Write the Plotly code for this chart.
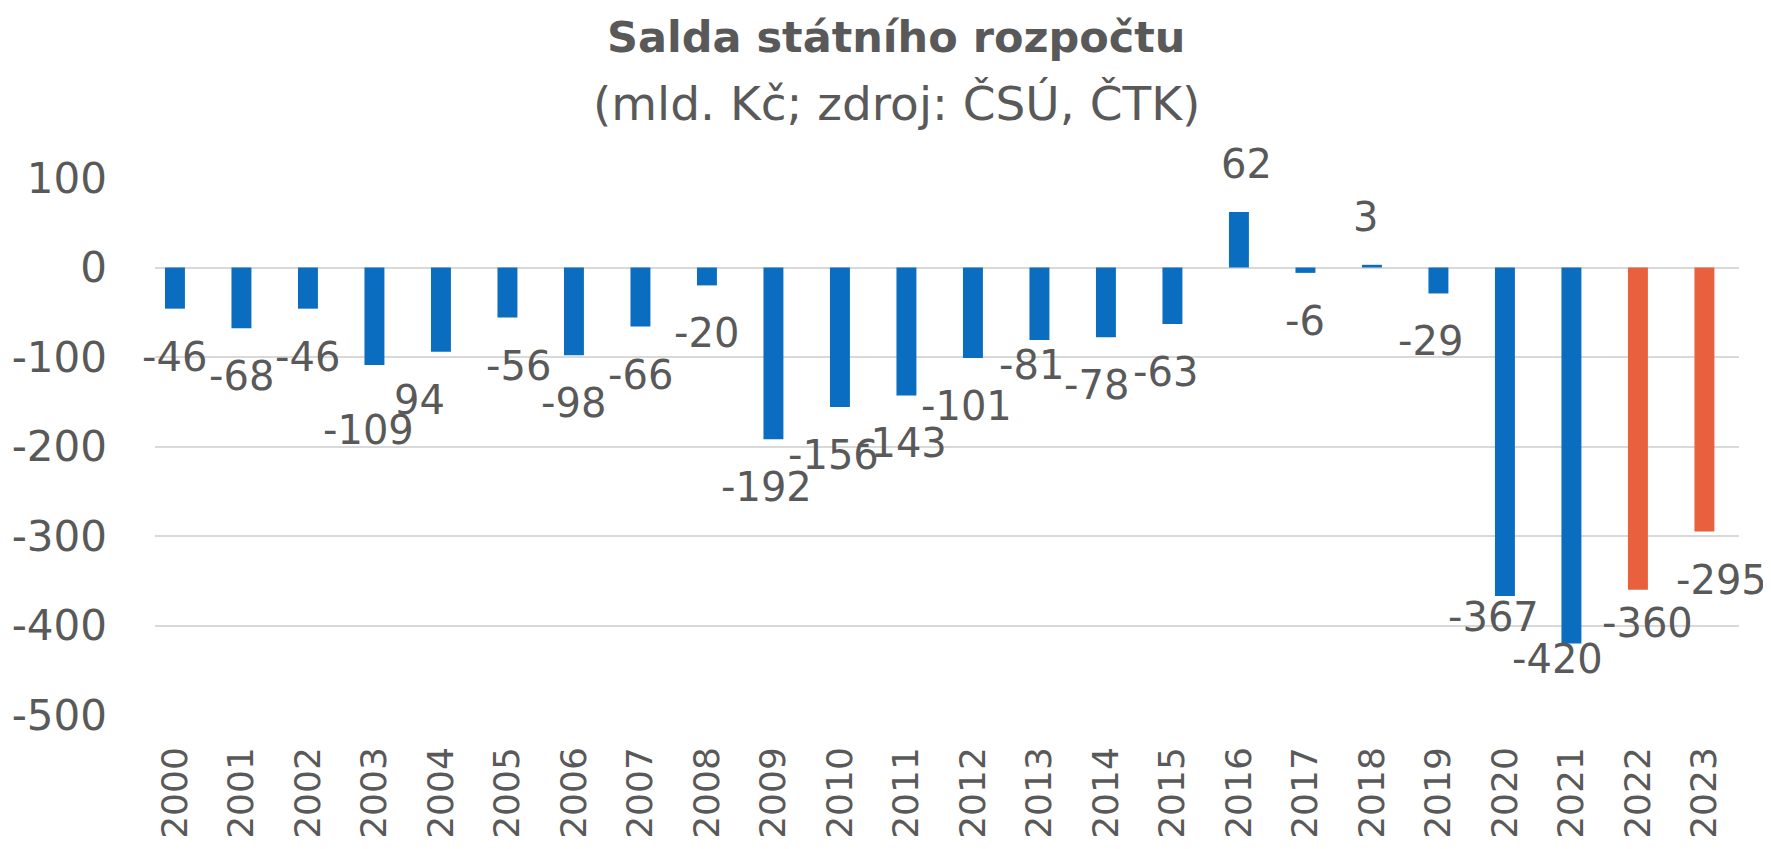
import plotly.graph_objects as go

years = [str(y) for y in range(2000, 2024)]
values = [-46, -68, -46, -109, -94, -56, -98, -66, -20, -192, -156, -143,
          -101, -81, -78, -63, 62, -6, 3, -29, -367, -420, -360, -295]
labels = ["-46", "-68", "-46", "-109", "94", "-56", "-98", "-66", "-20", "-192", "-156", "-143",
          "-101", "-81", "-78", "-63", "62", "-6", "3", "-29", "-367", "-420", "-360", "-295"]
forecast_years = ["2022", "2023"]
y_ticks = [100, 0, -100, -200, -300, -400, -500]
y_tick_text = ["100", "0", "-100", "-200", "-300", "-400", "-500"]

title = "Salda státního rozpočtu"
subtitle = "(mld. Kč; zdroj: ČSÚ, ČTK)"

BLUE = "#0A6DC0"
ORANGE = "#E8603E"
TEXT = "#595959"
GRID = "#D9D9D9"
FONT = "DejaVu Sans"

colors = [ORANGE if y in forecast_years else BLUE for y in years]

# label placement (pixels): distance of label centre from bar end, plus a few nudges
label_shift_default = 48
label_yshift_override = {"2003": 65, "2013": 25, "2020": 21, "2021": 16, "2022": 33}
label_xshift_override = {"2003": -6, "2004": -21, "2005": 11, "2009": -7, "2010": -6,
                         "2011": -5, "2012": -6, "2013": -8, "2014": -9, "2015": -7,
                         "2016": 8, "2018": -6, "2019": -8, "2020": -11, "2021": -14,
                         "2022": 10, "2023": 17}

fig = go.Figure()
fig.add_trace(go.Bar(
    x=years, y=values, marker=dict(color=colors, line=dict(width=0)),
    width=0.3, showlegend=False, hoverinfo="x+y",
))

for i, (y, v, lab) in enumerate(zip(years, values, labels)):
    shift = label_yshift_override.get(y, label_shift_default)
    fig.add_annotation(
        x=i, y=v, xref="x", yref="y", text=lab, showarrow=False,
        yshift=shift if v > 0 else -shift, xshift=label_xshift_override.get(y, 0),
        yanchor="middle", xanchor="center",
        font=dict(family=FONT, size=40, color=TEXT),
    )

fig.add_annotation(
    x=0.468, y=1.262, xref="paper", yref="paper", text="<b>" + title + "</b>",
    showarrow=False, xanchor="center", yanchor="middle",
    font=dict(family=FONT, size=43, color=TEXT),
)
fig.add_annotation(
    x=0.468, y=1.138, xref="paper", yref="paper", text=subtitle,
    showarrow=False, xanchor="center", yanchor="middle",
    font=dict(family=FONT, size=47, color=TEXT),
)

fig.update_layout(
    width=1771, height=849,
    margin=dict(l=147, r=40, t=170, b=142, autoexpand=False),
    paper_bgcolor="white", plot_bgcolor="white",
    font=dict(family=FONT, color=TEXT),
    xaxis=dict(
        type="category", range=[-0.3, 23.52], tickangle=-90,
        tickfont=dict(family=FONT, size=36, color=TEXT),
        showgrid=False, showline=False, ticks="", ticklabelstandoff=24,
        automargin=False,
    ),
    yaxis=dict(
        range=[-500, 100], tickvals=y_ticks, ticktext=y_tick_text,
        tickfont=dict(family=FONT, size=42, color=TEXT),
        showgrid=True, gridcolor=GRID, gridwidth=2,
        zeroline=True, zerolinecolor=GRID, zerolinewidth=2,
        showline=False, ticks="", ticklabelstandoff=47, automargin=False,
    ),
)

fig.write_html("out.html")
